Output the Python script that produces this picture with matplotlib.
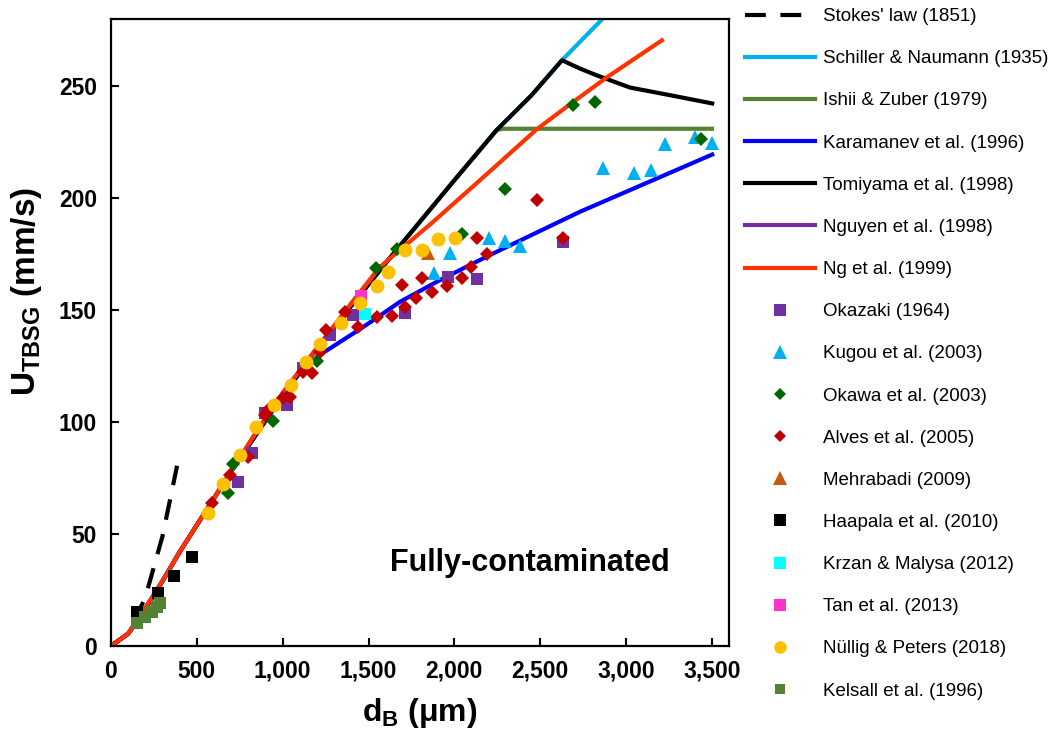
import matplotlib

matplotlib.use("Agg")

import matplotlib.pyplot as plt
from matplotlib.ticker import FuncFormatter, MultipleLocator

plt.rcParams.update(
    {
        "font.family": ["Liberation Sans", "DejaVu Sans"],
        "mathtext.fontset": "custom",
        "mathtext.rm": "Liberation Sans:bold",
        "mathtext.it": "Liberation Sans:bold",
        "mathtext.bf": "Liberation Sans:bold",
    }
)

# --- correlations (bubble diameter in um, terminal velocity in mm/s) ---
stokes_d = [0, 100, 200, 300, 385]
stokes_u = [0, 5.4, 21.7, 49, 80.5]

sn_d = [0, 100, 200, 300, 400, 550, 700, 850, 1000, 1200, 1400, 1600, 1800, 2000, 2246, 2450, 2627, 2900]
sn_u = [0, 5.5, 16.5, 29, 42, 60, 78, 95, 112, 133, 152, 171, 189.5, 208, 230.4, 246, 261.6, 283]

iz_d = [0, 100, 200, 300, 400, 550, 700, 850, 1000, 1200, 1400, 1600, 1800, 2000, 2246, 2280, 3500]
iz_u = [0, 5.5, 16.5, 29, 42, 60, 78, 95, 112, 133, 152, 171, 189.5, 208, 230.4, 231, 231]

kar_d = [0, 100, 200, 300, 400, 550, 700, 850, 1000, 1100, 1237, 1450, 1528, 1683, 1916, 2207, 2731, 3502]
kar_u = [0, 5.5, 16.5, 29, 42, 60, 78, 95, 112, 122, 131, 141.5, 145.5, 153.7, 163.4, 174.6, 193.9, 219.5]

tom_d = [0, 100, 200, 300, 400, 550, 700, 850, 1000, 1200, 1400, 1600, 1800, 2000, 2246, 2450, 2627,
         2731, 2828, 3023, 3256, 3502]
tom_u = [0, 5.5, 16.5, 29, 42, 60, 78, 95, 112, 133, 152, 171, 189.5, 208, 230.4, 246, 261.6,
         257.9, 254.9, 249.4, 246, 242.3]

ngu_d = [0, 100, 200, 300, 400, 550, 700, 850, 1000, 1200, 1400, 1567]
ngu_u = [0, 5.5, 17, 29, 42, 60, 78, 96, 113, 133, 153, 169.3]

ng_d = [0, 100, 200, 300, 400, 550, 700, 850, 1000, 1200, 1400, 1567, 1870, 2149, 2479, 2654, 2887, 3209]
ng_u = [0, 5.5, 17, 29, 42, 60, 78, 96, 113, 133, 153, 169.3, 189, 208, 230.7, 240.8, 253.9, 270.5]

# --- experimental data ---
okazaki_d = [741, 819, 897, 1023, 1120, 1275, 1411, 1712, 1964, 2133, 2631]
okazaki_u = [73.3, 86.3, 103.9, 107.6, 124.0, 138.8, 147.8, 148.5, 164.9, 163.8, 180.5]

kugou_d = [1883, 1974, 2203, 2295, 2382, 2864, 3046, 3143, 3227, 3401, 3498]
kugou_u = [166.4, 175.3, 182.4, 180.9, 178.6, 213.3, 211.3, 212.5, 224.1, 227.4, 224.7]

okawa_d = [683, 712, 945, 1198, 1543, 1664, 2042, 2295, 2693, 2819, 3434]
okawa_u = [68.5, 81.5, 100.5, 127.5, 168.6, 177.1, 183.8, 203.9, 241.5, 243, 226.2]

alves_d = [590, 693, 800, 895, 916, 1003, 1043, 1120, 1169, 1217, 1250, 1363, 1440, 1551, 1635, 1697,
           1712, 1778, 1810, 1868, 1955, 2042, 2095, 2130, 2192, 2479, 2634]
alves_u = [63.7, 76.3, 84.5, 103, 105.4, 110.6, 111.3, 122.5, 121.7, 131.4, 141.3, 149.2, 142.4, 147,
           147.3, 161, 151.4, 155.2, 164.4, 158.2, 160.7, 164.2, 169.1, 182.3, 174.9, 199.1, 182]

mehrabadi_d = [1848]
mehrabadi_u = [175.3]

haapala_d = [150, 275, 369, 473]
haapala_u = [15.3, 23.5, 31.4, 39.9]

krzan_d = [1479]
krzan_u = [148.1]

tan_d = [1454]
tan_u = [156.3]

nullig_d = [563, 654, 751, 845, 949, 1048, 1136, 1217, 1338, 1450, 1551, 1615, 1712, 1810, 1906, 2003]
nullig_u = [59.5, 72.3, 85.3, 97.8, 107.6, 116.5, 126.9, 134.8, 144.3, 153.4, 160.7, 167.1, 176.8,
            176.8, 181.6, 182.0]

kelsall_d = [150, 198, 237, 266, 285]
kelsall_u = [10.1, 13.1, 15.3, 17.5, 19.2]

fig = plt.figure(figsize=(10.52, 7.32), dpi=100)
ax = fig.add_axes([0.1055, 0.1175, 0.5875, 0.8565])

LW = 3.0
ax.plot(stokes_d, stokes_u, color="black", lw=LW, dashes=(5, 3.5), label="Stokes' law (1851)")
ax.plot(sn_d, sn_u, color="#00B0F0", lw=LW, label="Schiller & Naumann (1935)")
ax.plot(iz_d, iz_u, color="#548235", lw=LW, label="Ishii & Zuber (1979)")
ax.plot(kar_d, kar_u, color="#0000FF", lw=LW, label="Karamanev et al. (1996)")
ax.plot(tom_d, tom_u, color="black", lw=LW, label="Tomiyama et al. (1998)")
ax.plot(ngu_d, ngu_u, color="#7030A0", lw=LW, label="Nguyen et al. (1998)")
ax.plot(ng_d, ng_u, color="#FF3300", lw=LW, label="Ng et al. (1999)")

pts = [
    (okazaki_d, okazaki_u, "s", 9.3, "#7030A0", "Okazaki (1964)"),
    (kugou_d, kugou_u, "^", 10.5, "#00B0F0", "Kugou et al. (2003)"),
    (okawa_d, okawa_u, "D", 7.2, "#006600", "Okawa et al. (2003)"),
    (alves_d, alves_u, "D", 7.2, "#C00000", "Alves et al. (2005)"),
    (mehrabadi_d, mehrabadi_u, "^", 10.5, "#C55A11", "Mehrabadi (2009)"),
    (haapala_d, haapala_u, "s", 9.3, "black", "Haapala et al. (2010)"),
    (krzan_d, krzan_u, "s", 9.3, "#00FFFF", "Krzan & Malysa (2012)"),
    (tan_d, tan_u, "s", 9.3, "#FF33CC", "Tan et al. (2013)"),
    (nullig_d, nullig_u, "o", 10.0, "#FFC000", "Nüllig & Peters (2018)"),
    (kelsall_d, kelsall_u, "s", 8.3, "#548235", "Kelsall et al. (1996)"),
]
for d, u, m, ms, c, lab in pts:
    ax.plot(d, u, ls="none", marker=m, ms=ms, mfc=c, mec=c, mew=0, label=lab)

ax.set_xlim(0, 3600)
ax.set_ylim(0, 280)
ax.set_xticks([0, 500, 1000, 1500, 2000, 2500, 3000, 3500])
ax.yaxis.set_major_locator(MultipleLocator(50))
ax.xaxis.set_major_formatter(FuncFormatter(lambda v, p: f"{int(v):,}"))
ax.tick_params(direction="in", length=6, width=1.5, labelsize=16.5, pad=10)
for t in ax.get_xticklabels() + ax.get_yticklabels():
    t.set_fontweight("bold")
for s in ax.spines.values():
    s.set_linewidth(1.6)

ax.set_xlabel(r"d$_{\rm B}$ ($\mu$m)", fontsize=23, fontweight="bold")
ax.set_ylabel(r"U$_{\rm TBSG}$ (mm/s)", fontsize=24, fontweight="bold")
ax.xaxis.set_label_coords(0.5, -0.08)
ax.yaxis.set_label_coords(-0.108, 0.565)

ax.text(1625, 37, "Fully-contaminated", fontsize=22, fontweight="bold", ha="left", va="center")

handles, labels = ax.get_legend_handles_labels()
fig.legend(
    handles,
    labels,
    loc="upper left",
    bbox_to_anchor=(745 / 1052, 1 - 8 / 732),
    frameon=False,
    fontsize=13.5,
    handlelength=3.75,
    handletextpad=0.4,
    labelspacing=1.335,
    borderpad=0,
    borderaxespad=0,
    markerscale=0.9,
)

fig.savefig("out.png", dpi=100)
